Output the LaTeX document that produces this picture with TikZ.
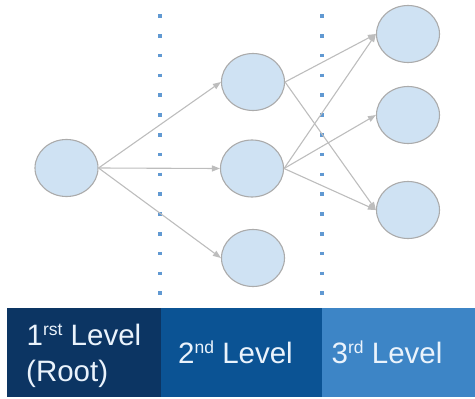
\documentclass[tikz,border=0pt]{standalone}
\usepackage{fontspec}
\setmainfont{Liberation Sans}
\usetikzlibrary{shapes.geometric,arrows.meta}
\definecolor{nodefill}{HTML}{CFE2F3}
\definecolor{nodeline}{HTML}{ABABAB}
\definecolor{arrowc}{HTML}{BDBDBD}
\definecolor{dotc}{HTML}{6199D2}
\definecolor{barA}{HTML}{0C3563}
\definecolor{barB}{HTML}{0B5394}
\definecolor{barC}{HTML}{3D85C6}
\definecolor{textc}{HTML}{EAF3FC}
\newcommand{\supr}[1]{\raisebox{10pt}{\fontsize{17.5}{17.5}\selectfont #1}}
\begin{document}
\begin{tikzpicture}[x=1pt,y=-1pt,
  circ/.style={ellipse, draw=nodeline, fill=nodefill, line width=1.1pt, minimum width=63pt, minimum height=57pt, inner sep=0pt},
  conn/.style={draw=arrowc, line width=1.1pt, -{Triangle[length=8pt,width=6pt]}},
  dotline/.style={draw=dotc, line width=3.6pt, dash pattern=on 3.6pt off 16.2pt},
  bartext/.style={text=textc, font=\fontsize{29.5}{34}\selectfont, inner sep=0pt, anchor=base west}]
\useasboundingbox (0,0) rectangle (475,399);
% dotted separators
\draw[dotline] (160,14.2) -- (160,296);
\draw[dotline] (322,14.2) -- (322,296);
% nodes
\node[circ] (r) at (66.5,168) {};
\node[circ] (a) at (253,82) {};
\node[circ] (b) at (252,168.5) {};
\node[circ] (c) at (253,258) {};
\node[circ] (d) at (408,34) {};
\node[circ] (e) at (408,115) {};
\node[circ] (f) at (408,210) {};
% connectors
\draw[conn] (r.east) -- (a.west);
\draw[conn] (r.east) -- (b.west);
\draw[conn] (r.east) -- (c.west);
\draw[conn] (a.east) -- (d.west);
\draw[conn] (a.east) -- (f.west);
\draw[conn] (b.east) -- (d.west);
\draw[conn] (b.east) -- (e.west);
\draw[conn] (b.east) -- (f.west);
% bar
\fill[barA] (7,308) rectangle (160.5,397);
\fill[barB] (160.5,308) rectangle (322,397);
\fill[barC] (322,308) rectangle (475,397);
\node[bartext] (t1) at (26.5,345) {1\supr{rst} Level};
\node[bartext] (t1b) at (26,381.7) {(Root)};
\node[bartext] (t2) at (178,363.3) {2\supr{nd} Level};
\node[bartext] (t3) at (331.5,363.3) {3\supr{rd} Level};
\end{tikzpicture}
\end{document}
